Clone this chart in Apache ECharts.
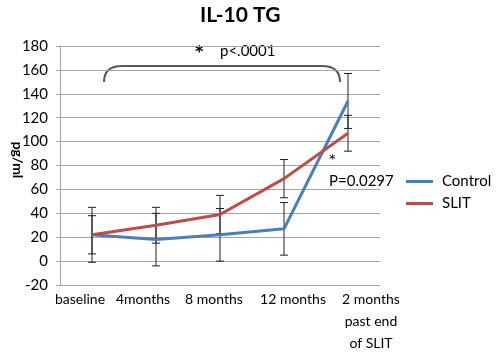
<!DOCTYPE html>
<html>
<head>
<meta charset="utf-8">
<script src="https://cdn.jsdelivr.net/npm/echarts@6/dist/echarts.min.js"></script>
<style>
  html, body { margin: 0; padding: 0; background: #fff; }
  #chart { width: 500px; height: 358px; }
</style>
</head>
<body>
<div id="chart"></div>
<script>
const categories = ["baseline", "4months", "8 months", "12 months", "2 months\npast end\nof SLIT"]
const controlMean = [22, 18, 22, 27, 134]
const controlErr = [16, 22, 22, 22, 23]
const slitMean = [22, 30, 39, 69, 107]
const slitErr = [23, 15, 16, 16, 15]

const FONT = "Lato, 'Open Sans', sans-serif"
const BLUE = "#4a7ebb"
const RED = "#be4b48"
// horizontal nudge of each category label (px), the way the source spread its crowded labels
const LABEL_SHIFT = [-12, -13, -6, 9, 23]

function errorRows(means, errs) {
  return means.map((m, i) => [i, m - errs[i], m + errs[i]])
}

function shiftedLabel(text, shift) {
  const padding = shift < 0 ? [0, -2 * shift, 0, 0] : [0, 0, 0, 2 * shift]
  return { value: text, textStyle: { padding } }
}

function renderErrorBar(params, api) {
  const lo = api.coord([api.value(0), api.value(1)])
  const hi = api.coord([api.value(0), api.value(2)])
  const half = 4
  const style = { stroke: "#222", lineWidth: 1 }
  return {
    type: "group",
    children: [
      { type: "line", shape: { x1: hi[0], y1: hi[1], x2: lo[0], y2: lo[1] }, style },
      { type: "line", shape: { x1: hi[0] - half, y1: hi[1], x2: hi[0] + half, y2: hi[1] }, style },
      { type: "line", shape: { x1: lo[0] - half, y1: lo[1], x2: lo[0] + half, y2: lo[1] }, style }
    ]
  }
}

const braceStyle = { stroke: "#595959", lineWidth: 2, fill: null }

const chart = echarts.init(document.getElementById("chart"), null, { renderer: "canvas" })

chart.setOption({
  animation: false,
  title: {
    text: "IL-10 TG",
    left: 195,
    top: 0,
    textStyle: { fontFamily: FONT, fontSize: 21, fontWeight: "bold", color: "#000" }
  },
  legend: {
    orient: "vertical",
    left: 401,
    top: 169,
    itemWidth: 27,
    itemHeight: 3,
    itemGap: 7,
    icon: "rect",
    textStyle: { fontFamily: FONT, fontSize: 15, color: "#000", padding: [0, 0, 0, 4] },
    data: ["Control", "SLIT"]
  },
  grid: { left: 60, right: 120, top: 46, bottom: 73, outerBoundsMode: "none" },
  xAxis: {
    type: "category",
    data: categories.map((c, i) => shiftedLabel(c, LABEL_SHIFT[i])),
    axisLine: { show: true, lineStyle: { color: "#a6a6a6" } },
    axisTick: { show: false },
    axisLabel: { fontFamily: FONT, fontSize: 14, color: "#000", margin: 3, lineHeight: 22, interval: 0 }
  },
  yAxis: {
    type: "value",
    min: -20,
    max: 180,
    interval: 20,
    axisLine: { show: true, lineStyle: { color: "#a6a6a6" } },
    axisTick: { show: true, length: 4, lineStyle: { color: "#a6a6a6" } },
    axisLabel: { fontFamily: FONT, fontSize: 15, color: "#000", margin: 12 },
    splitLine: { lineStyle: { color: "#a6a6a6" } }
  },
  series: [
    {
      name: "Control",
      type: "line",
      data: controlMean,
      color: BLUE,
      symbol: "none",
      lineStyle: { width: 3, color: BLUE }
    },
    {
      name: "SLIT",
      type: "line",
      data: slitMean,
      color: RED,
      symbol: "none",
      lineStyle: { width: 3, color: RED }
    },
    {
      type: "custom",
      renderItem: renderErrorBar,
      data: errorRows(controlMean, controlErr),
      encode: { x: 0, y: [1, 2] },
      z: 3
    },
    {
      type: "custom",
      renderItem: renderErrorBar,
      data: errorRows(slitMean, slitErr),
      encode: { x: 0, y: [1, 2] },
      z: 3
    }
  ],
  graphic: [
    {
      // y axis title, placed by hand so it sits close to the tick labels
      type: "text",
      x: 18,
      y: 160,
      rotation: -Math.PI / 2,
      style: {
        text: "pg/ml",
        fontFamily: FONT,
        fontSize: 14,
        fontWeight: "bold",
        fill: "#000",
        align: "center",
        verticalAlign: "middle"
      }
    },
    {
      type: "bezierCurve",
      shape: { x1: 104, y1: 82, cpx1: 104, cpy1: 66, x2: 122, y2: 66 },
      style: braceStyle
    },
    {
      type: "line",
      shape: { x1: 122, y1: 66, x2: 322, y2: 66 },
      style: braceStyle
    },
    {
      type: "bezierCurve",
      shape: { x1: 322, y1: 66, cpx1: 340, cpy1: 66, x2: 340, y2: 82 },
      style: braceStyle
    },
    {
      type: "text",
      left: 195,
      top: 45,
      style: { text: "*", fontFamily: "'DejaVu Sans', sans-serif", fontSize: 16, fontWeight: "bold", fill: "#000" }
    },
    {
      type: "text",
      left: 220,
      top: 44,
      style: { text: "p<.0001", fontFamily: FONT, fontSize: 15, fill: "#000" }
    },
    {
      type: "text",
      left: 329,
      top: 153,
      style: { text: "*", fontFamily: "'DejaVu Sans', sans-serif", fontSize: 13, fill: "#000" }
    },
    {
      type: "text",
      left: 329,
      top: 174,
      style: { text: "P=0.0297", fontFamily: FONT, fontSize: 15, fill: "#000" }
    }
  ]
})
</script>
</body>
</html>
